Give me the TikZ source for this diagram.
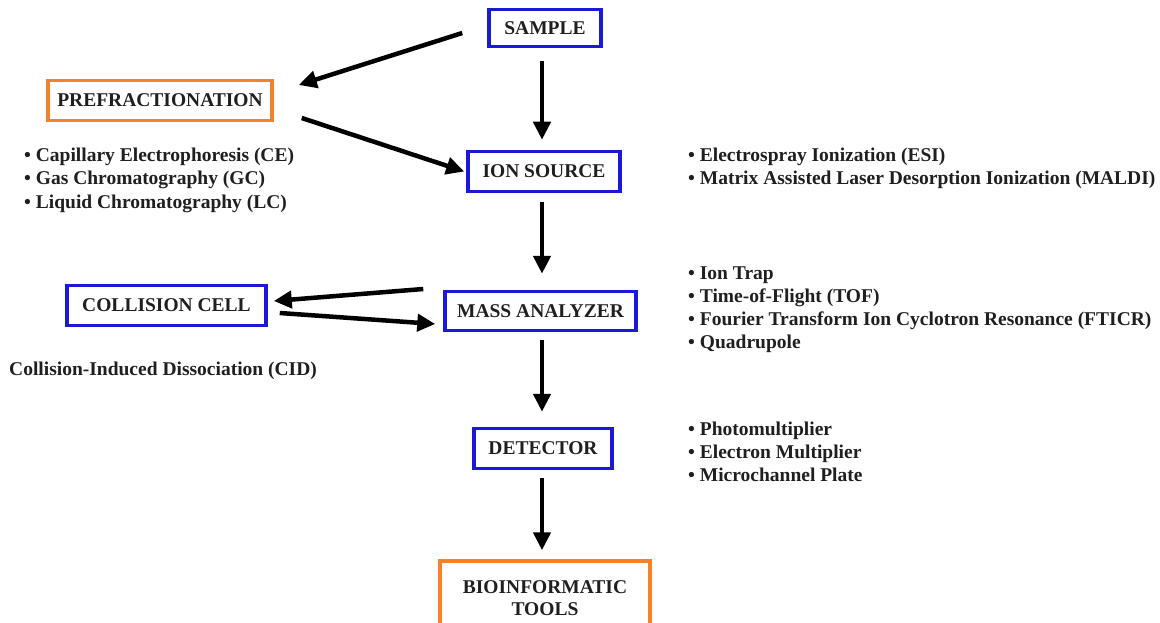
\documentclass[tikz,border=0pt]{standalone}
\usepackage{fontspec}
\setmainfont{Liberation Serif}
\usetikzlibrary{arrows.meta}
\definecolor{boxblue}{RGB}{25,25,215}
\definecolor{boxorange}{RGB}{250,128,40}
\begin{document}
\begin{tikzpicture}[x=1pt,y=-1pt,
  every node/.style={font=\fontsize{19.5}{22}\selectfont\bfseries, text=black!88},
  bluebox/.style={draw=boxblue, line width=3.5pt, inner sep=0pt, align=center},
  orangebox/.style={draw=boxorange, line width=3.5pt, inner sep=0pt, align=center},
  item/.style={anchor=base west, inner sep=0pt},
  arr/.style={line width=4.5pt, -{Triangle[length=18pt,width=17pt]}, black}]
\useasboundingbox (0,0) rectangle (1160,623);
\clip (0,0) rectangle (1160,623);
% boxes
\node[bluebox, minimum width=112pt, minimum height=37pt] (sample) at (545,28) {SAMPLE};
\node[orangebox, minimum width=224pt, minimum height=40pt] (prefrac) at (160,100.5) {PREFRACTIONATION};
\node[bluebox, minimum width=152pt, minimum height=40pt] (ion) at (544,171.5) {ION SOURCE};
\node[bluebox, minimum width=199pt, minimum height=40pt] (coll) at (166.5,305.5) {COLLISION CELL};
\node[bluebox, minimum width=191pt, minimum height=39pt] (mass) at (540.5,311) {MASS ANALYZER};
\node[bluebox, minimum width=138pt, minimum height=40pt] (det) at (543,448.5) {DETECTOR};
\node[orangebox, minimum width=210pt, minimum height=74pt] (bio) at (545,598) {BIOINFORMATIC\\TOOLS};
% vertical arrows
\draw[arr] ([xshift=-3pt,yshift=-13pt]sample.south) -- ([xshift=-2pt,yshift=10pt]ion.north);
\draw[arr] ([xshift=-2pt,yshift=-9pt]ion.south) -- ([xshift=1.5pt,yshift=16pt]mass.north);
\draw[arr] ([xshift=1.5pt,yshift=-8pt]mass.south) -- ([xshift=-1pt,yshift=15pt]det.north);
\draw[arr] ([xshift=-1pt,yshift=-8pt]det.south) -- ([xshift=-3pt,yshift=9pt]bio.north);
% slanted arrows
\draw[arr] ([xshift=-25pt,yshift=-5pt]sample.west) -- ([xshift=25pt,yshift=15.5pt]prefrac.east);
\draw[arr] ([xshift=28pt,yshift=-17.5pt]prefrac.east) -- ([xshift=-2pt]ion.west);
\draw[arr] ([xshift=-20pt,yshift=22pt]mass.west) -- ([xshift=6pt,yshift=4.5pt]coll.east);
\draw[arr] ([xshift=12pt,yshift=-7.5pt]coll.east) -- ([xshift=-8pt,yshift=-13pt]mass.west);
% lists
\node[item] (ce) at (24,162) {• Capillary Electrophoresis (CE)};
\node[item] (gc) at (24,185) {• Gas Chromatography (GC)};
\node[item] (lc) at (24,208) {• Liquid Chromatography (LC)};
\node[item] (esi) at (688,162) {• Electrospray Ionization (ESI)};
\node[item] (maldi) at (688,185) {• Matrix Assisted Laser Desorption Ionization (MALDI)};
\node[item] (trap) at (688,279) {• Ion Trap};
\node[item] (tof) at (688,302) {• Time-of-Flight (TOF)};
\node[item] (fticr) at (688,325) {• Fourier Transform Ion Cyclotron Resonance (FTICR)};
\node[item] (quad) at (688,348) {• Quadrupole};
\node[item] (photo) at (688,435) {• Photomultiplier};
\node[item] (elmul) at (688,458) {• Electron Multiplier};
\node[item] (micro) at (688,481) {• Microchannel Plate};
\node[item] (cid) at (9,375) {Collision-Induced Dissociation (CID)};
\end{tikzpicture}
\end{document}
